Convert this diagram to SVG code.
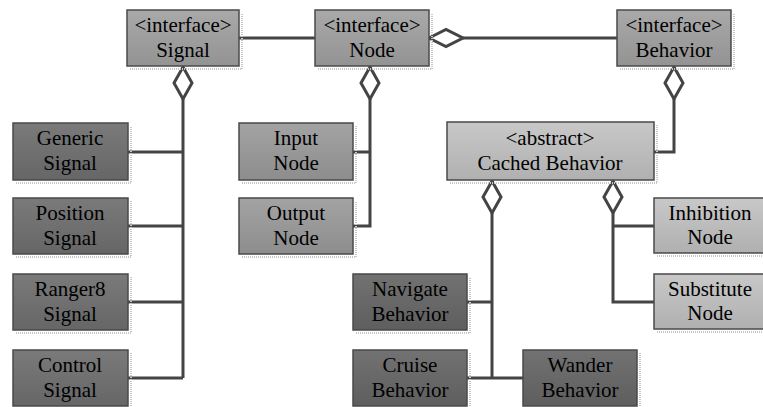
<svg xmlns="http://www.w3.org/2000/svg" width="763" height="407" viewBox="0 0 763 407">
<defs>
<linearGradient id="gI" x1="0" y1="0" x2="0" y2="1"><stop offset="0" stop-color="#a9a9a9"/><stop offset="1" stop-color="#939393"/></linearGradient>
<linearGradient id="gD" x1="0" y1="0" x2="0" y2="1"><stop offset="0" stop-color="#7a7a7a"/><stop offset="1" stop-color="#666666"/></linearGradient>
<linearGradient id="gM" x1="0" y1="0" x2="0" y2="1"><stop offset="0" stop-color="#a3a3a3"/><stop offset="1" stop-color="#8d8d8d"/></linearGradient>
<linearGradient id="gL" x1="0" y1="0" x2="0" y2="1"><stop offset="0" stop-color="#c8c8c8"/><stop offset="1" stop-color="#b0b0b0"/></linearGradient>
<linearGradient id="gB" x1="0" y1="0" x2="0" y2="1"><stop offset="0" stop-color="#727272"/><stop offset="1" stop-color="#5e5e5e"/></linearGradient>
</defs>
<rect width="763" height="407" fill="#fff"/>
<g id="connectors" fill="none" stroke="#444" stroke-width="3">
<path d="M239 38H315"/>
<path d="M463 38H617"/>
<path d="M183 99V378M128 152H183M128 226H183M128 302H183M128 378H183"/>
<path d="M370 99V226H353M353 152H370"/>
<path d="M674 99V152H654"/>
<path d="M492 213V378M467 302H492M467 378H523"/>
<path d="M613 213V302H654M613 226H654"/>
<g fill="#fff">
<path d="M183 67L192 83L183 99L174 83Z"/>
<path d="M370 67L379 83L370 99L361 83Z"/>
<path d="M674 67L683 83L674 99L665 83Z"/>
<path d="M429 38L446 29.5L463 38L446 46.5Z"/>
<path d="M492 181L501 197L492 213L483 197Z"/>
<path d="M613 181L622 197L613 213L604 197Z"/>
</g>
</g>
<g id="shadows" fill="none" stroke="#c8c8c8" stroke-width="2" stroke-dasharray="1 1">
<path d="M130 69H242V13"/><path d="M318 69H432V13"/><path d="M620 69H734V13"/>
<path d="M16 183H131V126"/><path d="M16 257H131V201"/><path d="M16 333H131V277"/><path d="M131 353V409"/>
<path d="M242 183H356V126"/><path d="M242 257H356V201"/>
<path d="M450 183H657V125"/><path d="M657 256H770"/><path d="M657 332H770"/>
<path d="M356 333H470V277"/><path d="M470 353V409"/><path d="M640 353V409"/>
</g>
<g id="signal"><rect stroke="#4a4a4a" stroke-width="1.5" x="127" y="10" width="112" height="56" fill="url(#gI)"/><text font-family="Times New Roman" font-size="21" text-anchor="middle" x="183" y="32">&lt;interface&gt;</text><text font-family="Times New Roman" font-size="21" text-anchor="middle" x="183" y="57">Signal</text></g>
<g id="node"><rect stroke="#4a4a4a" stroke-width="1.5" x="315" y="10" width="114" height="56" fill="url(#gI)"/><text font-family="Times New Roman" font-size="21" text-anchor="middle" x="372" y="32">&lt;interface&gt;</text><text font-family="Times New Roman" font-size="21" text-anchor="middle" x="372" y="57">Node</text></g>
<g id="behavior"><rect stroke="#4a4a4a" stroke-width="1.5" x="617" y="10" width="114" height="56" fill="url(#gI)"/><text font-family="Times New Roman" font-size="21" text-anchor="middle" x="674" y="32">&lt;interface&gt;</text><text font-family="Times New Roman" font-size="21" text-anchor="middle" x="674" y="57">Behavior</text></g>
<g id="generic-signal"><rect stroke="#4a4a4a" stroke-width="1.5" x="13" y="123" width="115" height="57" fill="url(#gD)"/><text font-family="Times New Roman" font-size="21" text-anchor="middle" x="70" y="145">Generic</text><text font-family="Times New Roman" font-size="21" text-anchor="middle" x="70" y="170">Signal</text></g>
<g id="position-signal"><rect stroke="#4a4a4a" stroke-width="1.5" x="13" y="198" width="115" height="56" fill="url(#gD)"/><text font-family="Times New Roman" font-size="21" text-anchor="middle" x="70" y="220">Position</text><text font-family="Times New Roman" font-size="21" text-anchor="middle" x="70" y="245">Signal</text></g>
<g id="ranger8-signal"><rect stroke="#4a4a4a" stroke-width="1.5" x="13" y="274" width="115" height="56" fill="url(#gD)"/><text font-family="Times New Roman" font-size="21" text-anchor="middle" x="70" y="296">Ranger8</text><text font-family="Times New Roman" font-size="21" text-anchor="middle" x="70" y="321">Signal</text></g>
<g id="control-signal"><rect stroke="#4a4a4a" stroke-width="1.5" x="13" y="350" width="115" height="56" fill="url(#gD)"/><text font-family="Times New Roman" font-size="21" text-anchor="middle" x="70" y="372">Control</text><text font-family="Times New Roman" font-size="21" text-anchor="middle" x="70" y="397">Signal</text></g>
<g id="input-node"><rect stroke="#4a4a4a" stroke-width="1.5" x="239" y="123" width="114" height="57" fill="url(#gM)"/><text font-family="Times New Roman" font-size="21" text-anchor="middle" x="296" y="145">Input</text><text font-family="Times New Roman" font-size="21" text-anchor="middle" x="296" y="170">Node</text></g>
<g id="output-node"><rect stroke="#4a4a4a" stroke-width="1.5" x="239" y="198" width="114" height="56" fill="url(#gM)"/><text font-family="Times New Roman" font-size="21" text-anchor="middle" x="296" y="220">Output</text><text font-family="Times New Roman" font-size="21" text-anchor="middle" x="296" y="245">Node</text></g>
<g id="cached-behavior"><rect stroke="#4a4a4a" stroke-width="1.5" x="447" y="122" width="207" height="58" fill="url(#gL)"/><text font-family="Times New Roman" font-size="21" text-anchor="middle" x="550" y="145">&lt;abstract&gt;</text><text font-family="Times New Roman" font-size="21" text-anchor="middle" x="550" y="170">Cached Behavior</text></g>
<g id="inhibition-node"><rect stroke="#4a4a4a" stroke-width="1.5" x="654" y="198" width="114" height="55" fill="url(#gL)"/><text font-family="Times New Roman" font-size="21" text-anchor="middle" x="710" y="220">Inhibition</text><text font-family="Times New Roman" font-size="21" text-anchor="middle" x="710" y="244">Node</text></g>
<g id="substitute-node"><rect stroke="#4a4a4a" stroke-width="1.5" x="654" y="274" width="114" height="55" fill="url(#gL)"/><text font-family="Times New Roman" font-size="21" text-anchor="middle" x="710" y="296">Substitute</text><text font-family="Times New Roman" font-size="21" text-anchor="middle" x="710" y="320">Node</text></g>
<g id="navigate-behavior"><rect stroke="#4a4a4a" stroke-width="1.5" x="353" y="274" width="114" height="56" fill="url(#gB)"/><text font-family="Times New Roman" font-size="21" text-anchor="middle" x="410" y="296">Navigate</text><text font-family="Times New Roman" font-size="21" text-anchor="middle" x="410" y="321">Behavior</text></g>
<g id="cruise-behavior"><rect stroke="#4a4a4a" stroke-width="1.5" x="353" y="350" width="114" height="56" fill="url(#gB)"/><text font-family="Times New Roman" font-size="21" text-anchor="middle" x="410" y="372">Cruise</text><text font-family="Times New Roman" font-size="21" text-anchor="middle" x="410" y="397">Behavior</text></g>
<g id="wander-behavior"><rect stroke="#4a4a4a" stroke-width="1.5" x="523" y="350" width="114" height="56" fill="url(#gB)"/><text font-family="Times New Roman" font-size="21" text-anchor="middle" x="580" y="372">Wander</text><text font-family="Times New Roman" font-size="21" text-anchor="middle" x="580" y="397">Behavior</text></g>
</svg>
